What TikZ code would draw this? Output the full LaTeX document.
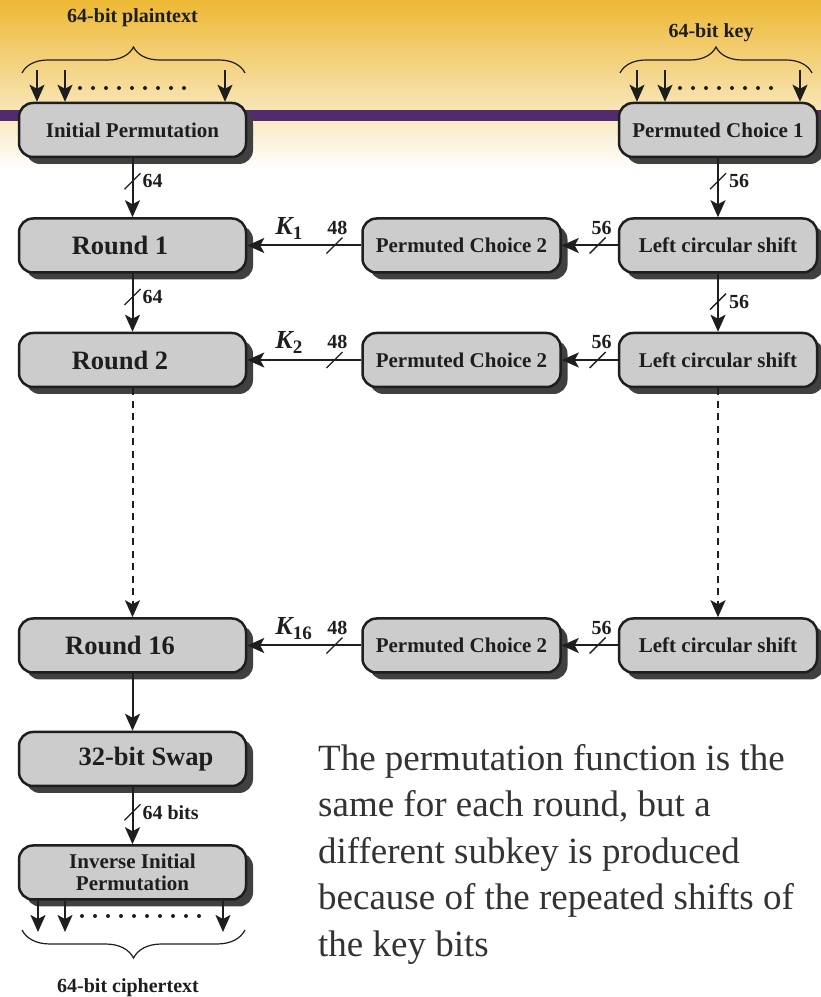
\documentclass[tikz,border=0pt]{standalone}
\usepackage{fontspec}
\setmainfont{Liberation Serif}
\usepackage{xcolor}
\usepackage{tikz}
\usetikzlibrary{arrows.meta,positioning,shadows,decorations.pathreplacing}

\definecolor{bandtop}{HTML}{EDB834}
\definecolor{bandpurple}{HTML}{512B6E}
\definecolor{boxgray}{HTML}{CCCCCC}
\definecolor{shadowgray}{HTML}{404040}
\definecolor{inkgray}{HTML}{1E1E1E}
\definecolor{notegray}{HTML}{333333}

\newcommand{\subkey}[1]{{\fontsize{26}{26}\selectfont\bfseries\itshape K}\raisebox{-5pt}{\fontsize{19}{19}\selectfont\bfseries #1}}

\begin{document}
\begin{tikzpicture}[
    x=1pt, y=1pt,
    node distance=58pt and 56pt,
    box/.style={draw=inkgray, line width=2.5pt, rounded corners=14pt, fill=boxgray,
                minimum height=54pt, text=inkgray, align=center,
                drop shadow={shadow xshift=7pt, shadow yshift=-7pt, fill=shadowgray, opacity=1}},
    lbox/.style={box, minimum width=227pt, font=\bfseries\fontsize{21}{22}\selectfont},
    rbox/.style={box, minimum width=198pt, font=\bfseries\fontsize{21}{22}\selectfont},
    bigtxt/.style={font=\bfseries\fontsize{26.5}{28}\selectfont},
    arr/.style={-{Stealth[length=17pt, width=15pt, inset=4pt]}, line width=2pt, draw=inkgray},
    dashline/.style={dash pattern=on 7pt off 5.5pt},
    lbl/.style={font=\bfseries\fontsize{20}{20}\selectfont, text=inkgray, inner sep=1pt},
    brtxt/.style={font=\bfseries\fontsize{20}{20}\selectfont, text=inkgray, inner sep=0pt, anchor=base},
    dots/.style={line width=4pt, line cap=round, dash pattern=on 0pt off 13pt, draw=inkgray},
    brace/.style={decorate, decoration={brace, amplitude=#1}, line width=1.2pt, draw=inkgray},
    bus/.pic={\draw[-, line width=1.3pt, inkgray] (-8pt,-8pt) -- (8pt,8pt);}
]
\useasboundingbox (0,0) rectangle (821,997);
\shade[top color=bandtop, bottom color=white] (0,827) rectangle (821,997);
\fill[bandpurple] (0,876) rectangle (821,887);

\node[lbox] (ip) at (132.5,867) {Initial Permutation};
\node[lbox, bigtxt, below=59pt of ip] (r1) {Round 1\hspace*{25pt}};
\node[lbox, bigtxt, below=of r1] (r2) {Round 2\hspace*{25pt}};
\node[lbox, bigtxt, below=229pt of r2] (r16) {Round 16\hspace*{25pt}};
\node[lbox, bigtxt, below=57pt of r16] (swap) {\hspace*{27pt}32-bit Swap};
\node[lbox, below=57pt of swap] (iip) {Inverse Initial\\Permutation};

\node[rbox] (pc1) at (718,867) {Permuted Choice 1};
\node[rbox, below=59pt of pc1] (lcs1) {Left circular shift};
\node[rbox, below=of lcs1] (lcs2) {Left circular shift};
\node[rbox, below=229pt of lcs2] (lcs16) {Left circular shift};
\node[rbox, left=of lcs1] (pc2a) {Permuted Choice 2};
\node[rbox, left=of lcs2] (pc2b) {Permuted Choice 2};
\node[rbox, left=of lcs16] (pc2c) {Permuted Choice 2};

\node[brtxt] (ptext) at (132.5,974) {64-bit plaintext};
\node[brtxt] (ktext) at (711,959) {64-bit key};
\node[brtxt] (ctext) at (128,5) {64-bit ciphertext};

\coordinate (in1) at (37,927);
\coordinate (in2) at (65,927);
\coordinate (in3) at (225,927);
\coordinate (kin1) at (637,927);
\coordinate (kin2) at (665,927);
\coordinate (kin3) at (800,927);
\coordinate (out1) at (38,65);
\coordinate (out2) at (65,65);
\coordinate (out3) at (223,65);

\draw[brace=26pt] (22,924) -- (245,924);
\draw[brace=26pt] (620,924) -- (812,924);
\draw[brace=28pt] (245,67) -- (22,67);
\draw[dots] (80,909) -- (184.5,909);
\draw[dots] (680,909) -- (771.5,909);
\draw[dots] (82,81) -- (199.5,81);

\draw[arr] (in1) -- (in1 |- ip.north);
\draw[arr] (in2) -- (in2 |- ip.north);
\draw[arr] (in3) -- (in3 |- ip.north);
\draw[arr] (kin1) -- (kin1 |- pc1.north);
\draw[arr] (kin2) -- (kin2 |- pc1.north);
\draw[arr] (kin3) -- (kin3 |- pc1.north);
\draw[arr] (out1 |- iip.south) -- (out1);
\draw[arr] (out2 |- iip.south) -- (out2);
\draw[arr] (out3 |- iip.south) -- (out3);

\draw[arr] (ip) -- pic[pos=.39]{bus} node[lbl, pos=.39, right=8pt]{64} (r1);
\draw[arr] (r1) -- pic[pos=.4]{bus} node[lbl, pos=.4, right=8pt]{64} (r2);
\draw[arr, dashline] (r2) -- (r16);
\draw[arr] (r16) -- (swap);
\draw[arr] (swap) -- pic[pos=.44]{bus} node[lbl, pos=.44, right=8pt]{64 bits} (iip);

\draw[arr] (pc1) -- pic[pos=.39]{bus} node[lbl, pos=.39, right=9pt]{56} (lcs1);
\draw[arr] (lcs1) -- pic[pos=.48]{bus} node[lbl, pos=.48, right=9pt]{56} (lcs2);
\draw[arr, dashline] (lcs2) -- (lcs16);

\draw[arr] (lcs1) -- pic[pos=.36]{bus} node[lbl, pos=.29, anchor=base, yshift=11pt]{56} (pc2a);
\draw[arr] (lcs2) -- pic[pos=.36]{bus} node[lbl, pos=.29, anchor=base, yshift=11pt]{56} (pc2b);
\draw[arr] (lcs16) -- pic[pos=.36]{bus} node[lbl, pos=.29, anchor=base, yshift=11pt]{56} (pc2c);
\draw[arr] (pc2a) -- pic[pos=.235]{bus} node[lbl, pos=.21, anchor=base, yshift=11pt]{48}
    node[lbl, pos=.77, anchor=base west, yshift=11pt]{\subkey{1}} (r1);
\draw[arr] (pc2b) -- pic[pos=.235]{bus} node[lbl, pos=.21, anchor=base, yshift=11pt]{48}
    node[lbl, pos=.77, anchor=base west, yshift=11pt]{\subkey{2}} (r2);
\draw[arr] (pc2c) -- pic[pos=.235]{bus} node[lbl, pos=.21, anchor=base, yshift=11pt]{48}
    node[lbl, pos=.77, anchor=base west, yshift=11pt]{\subkey{16}} (r16);

\node[anchor=base west, align=left, inner sep=0pt, text=notegray,
      font=\fontsize{37}{46.5}\selectfont] (note) at (318,41)
     {The permutation function is the\\same for each round, but a\\different subkey is produced\\because of the repeated shifts of\\the key bits};
\end{tikzpicture}
\end{document}
